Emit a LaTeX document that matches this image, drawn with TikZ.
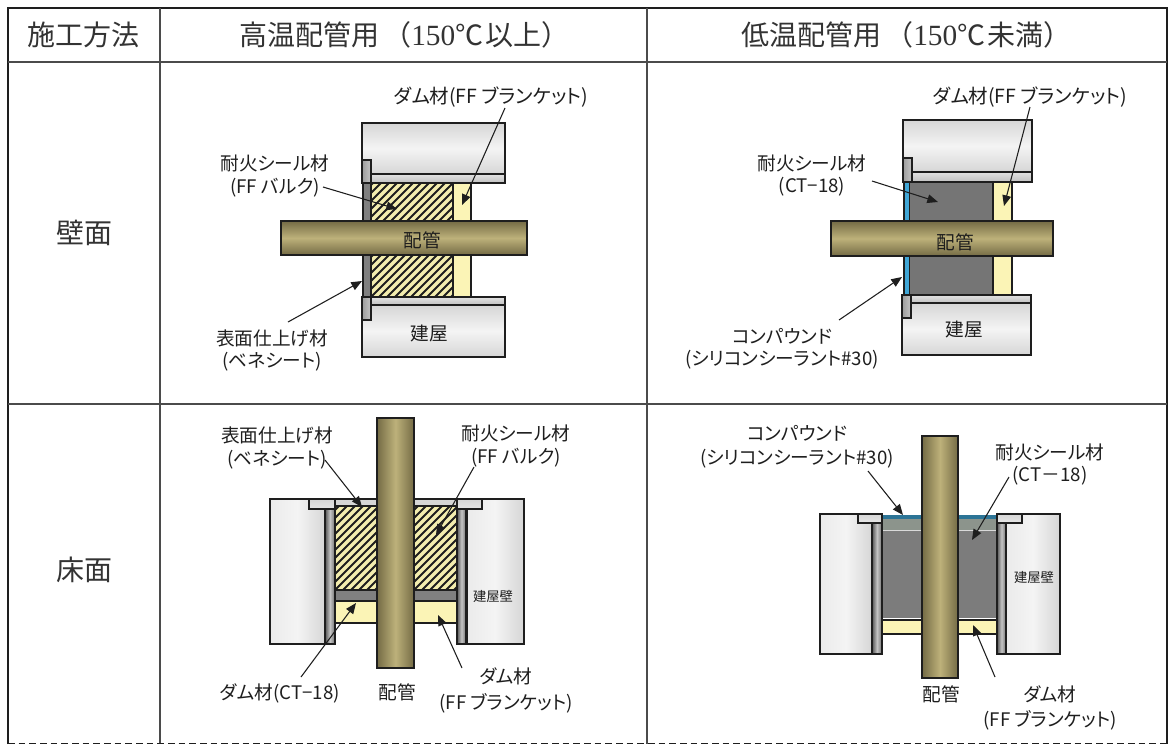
\documentclass[tikz,border=0pt]{standalone}
\usepackage{fontspec}
\usetikzlibrary{arrows.meta}
\setmainfont{Liberation Serif}
\newfontfamily\jpp[RawFeature={+palt}]{Noto Sans CJK JP}
\newfontfamily\jpf{Noto Sans CJK JP}
\newfontfamily\sernum{Liberation Serif}
\definecolor{ink}{HTML}{1E1E1E}
\definecolor{headink}{HTML}{333333}
\definecolor{yel}{HTML}{FBF4B6}
\definecolor{hatchy}{HTML}{F3EDAE}
\definecolor{seal}{HTML}{757575}
\definecolor{band}{HTML}{8C948C}
\definecolor{wallA}{HTML}{F4F4F4}
\definecolor{wallB}{HTML}{D6D6D6}
\definecolor{pipeA}{HTML}{746B45}
\definecolor{pipeB}{HTML}{BDB17A}
\definecolor{blueA}{HTML}{3FA6D6}
\definecolor{panelA}{HTML}{555555}
\definecolor{panelB}{HTML}{C4C4C4}
\definecolor{panelC}{HTML}{707070}
\tikzset{
  px/.style={x=0.75pt,y=-0.75pt},
  edge/.style={draw=ink,line width=1.4pt},
  wallh/.style={edge,top color=wallB,bottom color=wallB,middle color=wallA},
  wallv/.style={edge,left color=wallB!50!white,right color=wallB,middle color=wallA},
  strip/.style={edge,top color=wallB!70!white,bottom color=wallB!90!black},
  flange/.style={edge,left color=panelB!80!black,right color=panelB},
  panelv/.style={edge,left color=panelA,right color=panelC,middle color=panelB},
  pipeh/.style={edge,top color=pipeA,bottom color=pipeA,middle color=pipeB},
  pipev/.style={edge,left color=pipeA,right color=pipeA,middle color=pipeB},
  lab/.style={font=\jpp\fontsize{14}{16}\selectfont,inner sep=0pt,text=ink},
  widelab/.style={font=\jpp\fontsize{14.6}{16}\selectfont,inner sep=0pt,text=ink},
  smalllab/.style={font=\jpf\fontsize{10}{12}\selectfont,inner sep=0pt,text=ink},
  head/.style={font=\jpf\fontsize{21}{24}\selectfont,inner sep=0pt,text=headink},
  arr/.style={draw=ink,line width=0.8pt,-{Triangle[length=8pt,width=6.5pt]}},
  tline/.style={draw=ink!80,line width=0.8pt},
  touter/.style={draw=ink,line width=1.7pt},
}
\newcommand{\hatchbox}[4]{%
  \begin{scope}
    \clip (#1,#2) rectangle (#3,#4);
    \fill[hatchy] (#1,#2) rectangle (#3,#4);
    \foreach \k in {-304,-296,...,304}
      \draw[ink,line width=1.4pt] ({#1+\k},#4) -- ({#1+\k+#4-#2},#2);
  \end{scope}
  \draw[edge] (#1,#2) rectangle (#3,#4);}
\newcommand{\numtxt}{{\sernum\fontsize{22}{24}\selectfont 150}}
\begin{document}
\begin{tikzpicture}[px]
\useasboundingbox (0,0) rectangle (1168,744);
\fill[white] (0,0) rectangle (1168,744);
% table
\draw[touter] (8,744) -- (8,8) -- (1167,8) -- (1167,744);
\draw[tline] (8,62) -- (1167,62);
\draw[tline] (8,404) -- (1167,404);
\draw[tline] (160,8) -- (160,744);
\draw[tline] (647,8) -- (647,744);
\draw[draw=ink,line width=1.2pt,dash pattern=on 5pt off 3pt] (8,743.5) -- (1167,743.5);
\node[head] (h1) at (83,35) {施工方法};
\node[head,anchor=west] (h2) at (239,35) {高温配管用\kern 3pt（\numtxt ℃\kern 2pt 以上）};
\node[head,anchor=west] (h3) at (741,35) {低温配管用\kern 3pt（\numtxt ℃\kern 2pt 未満）};
\node[head] (r1) at (84,233) {壁面};
\node[head] (r2) at (84,570) {床面};

% ---------- Q1 wall, high temperature
\shade[wallh] (362,123) rectangle (505,174);
\shade[strip] (362,174) rectangle (505,183);
\shade[strip] (362,297) rectangle (505,305);
\shade[wallh] (362,305) rectangle (505,357);
\hatchbox{371}{183}{453}{297}
\fill[yel] (453,183) rectangle (471,297);
\draw[edge] (453,183) rectangle (471,297);
\fill[gray] (363,183) rectangle (371,297);
\draw[edge] (363,183) rectangle (371,297);
\shade[flange] (362,160) rectangle (371,183);
\shade[flange] (362,297) rectangle (371,320);
\shade[pipeh] (281,221) rectangle (527,255);
\node[lab] (a1) at (422,240) {配管};
\node[lab] (a2) at (429,333) {建屋};
\node[lab] (a3) at (275,163) {耐火シール材};
\node[lab] (a4) at (275,188) {(FF バルク)};
\node[lab] (a5) at (272,338) {表面仕上げ材};
\node[lab] (a6) at (272,362) {(ベネシート)};
\node[widelab] (a7) at (491,97) {ダム材(FF ブランケット)};
\coordinate (a4s) at (323,187); \coordinate (a4e) at (397,209);
\coordinate (a7s) at (505,108); \coordinate (a7e) at (462,205);
\coordinate (a5s) at (288,322); \coordinate (a5e) at (362,281);
\draw[arr] (a4s) -- (a4e);
\draw[arr] (a7s) -- (a7e);
\draw[arr] (a5s) -- (a5e);

% ---------- Q2 wall, low temperature
\shade[wallh] (903,120) rectangle (1032,172);
\shade[strip] (903,172) rectangle (1032,182);
\shade[strip] (902,295) rectangle (1031,303);
\shade[wallh] (902,303) rectangle (1031,355);
\fill[seal] (909,182) rectangle (993,295);
\draw[edge] (909,182) rectangle (993,295);
\fill[yel] (993,182) rectangle (1012,295);
\draw[edge] (993,182) rectangle (1012,295);
\fill[blueA] (905,182) rectangle (909,295);
\draw[ink,line width=0.8pt] (904,182) -- (904,295);
\shade[flange] (903,158) rectangle (912,182);
\shade[flange] (902,295) rectangle (911,318);
\shade[pipeh] (831,221) rectangle (1053,256);
\node[lab] (b1) at (955,242) {配管};
\node[lab] (b2) at (964,329) {建屋};
\node[lab] (b3) at (812,163) {耐火シール材};
\node[lab] (b4) at (812,187) {(CT−18)};
\node[lab] (b5) at (782,336) {コンパウンド};
\node[lab] (b6) at (782,360) {(シリコンシーラント\#30)};
\node[widelab] (b7) at (1030,97) {ダム材(FF ブランケット)};
\coordinate (b4s) at (872,181); \coordinate (b4e) at (938,202);
\coordinate (b7s) at (1030,107); \coordinate (b7e) at (1004,206);
\coordinate (b6s) at (839,320); \coordinate (b6e) at (902,277);
\draw[arr] (b4s) -- (b4e);
\draw[arr] (b7s) -- (b7e);
\draw[arr] (b6s) -- (b6e);

% ---------- Q3 floor, high temperature
\shade[wallv] (270,499) -| (309,509) -| (325,644) -| cycle;
\shade[wallv] (466,509) -| (482,499) -| (524,644) -| cycle;
\draw[edge,fill=wallB] (335,499) rectangle (377,506);
\draw[edge,fill=wallB] (414,499) rectangle (457,506);
\hatchbox{335}{506}{377}{590}
\hatchbox{414}{506}{457}{590}
\draw[edge,fill=gray] (335,590) rectangle (377,601);
\draw[edge,fill=gray] (414,590) rectangle (457,601);
\draw[edge,fill=yel] (335,601) rectangle (377,623);
\draw[edge,fill=yel] (414,601) rectangle (457,623);
\shade[panelv] (325,509) rectangle (335,644);
\shade[panelv] (457,509) rectangle (466,644);
\draw[ink,line width=1.8pt] (467,509) -- (467,644);
\shade[edge,top color=wallB,bottom color=wallB!60!white] (309,499) rectangle (335,509);
\shade[edge,top color=wallB,bottom color=wallB!60!white] (457,499) rectangle (482,509);
\shade[pipev] (377,418) rectangle (414,668);
\node[lab] (c1) at (277,435) {表面仕上げ材};
\node[lab] (c2) at (277,460) {(ベネシート)};
\node[lab] (c3) at (516,433) {耐火シール材};
\node[lab] (c4) at (516,458) {(FF バルク)};
\node[smalllab] (c5) at (493,596) {建屋壁};
\node[lab] (c6) at (280,693) {ダム材(CT−18)};
\node[lab] (c7) at (397,692) {配管};
\node[lab] (c8) at (506,676) {ダム材};
\node[lab] (c9) at (506,703) {(FF ブランケット)};
\coordinate (c2s) at (325,460); \coordinate (c2e) at (362,507);
\coordinate (c4s) at (474,467); \coordinate (c4e) at (436,535);
\coordinate (c6s) at (301,677); \coordinate (c6e) at (356,603);
\coordinate (c8s) at (462,668); \coordinate (c8e) at (438,615);
\draw[arr] (c2s) -- (c2e);
\draw[arr] (c4s) -- (c4e);
\draw[arr] (c6s) -- (c6e);
\draw[arr] (c8s) -- (c8e);

% ---------- Q4 floor, low temperature
\shade[wallv] (820,514) -| (858,523) -| (872,654) -| cycle;
\shade[wallv] (1006,523) -| (1022,514) -| (1060,654) -| cycle;
\fill[band] (882,516) rectangle (922,530);
\fill[band] (958,516) rectangle (997,530);
\fill[seal!95!white] (882,530) rectangle (922,618);
\fill[seal!95!white] (958,530) rectangle (997,618);
\draw[white!70!gray,line width=0.6pt] (882,530) -- (922,530);
\draw[white!70!gray,line width=0.6pt] (958,530) -- (997,530);
\draw[edge] (882,518) rectangle (922,620);
\draw[edge] (958,518) rectangle (997,620);
\draw[edge,fill=yel] (882,620) rectangle (922,634);
\draw[edge,fill=yel] (958,620) rectangle (997,634);
\fill[blueA!70!black] (882,515) rectangle (922,519);
\fill[blueA!70!black] (958,515) rectangle (997,519);
\shade[panelv] (872,523) rectangle (882,654);
\shade[panelv] (997,523) rectangle (1006,654);
\shade[edge,top color=wallB,bottom color=wallB!60!white] (858,514) rectangle (882,523);
\shade[edge,top color=wallB,bottom color=wallB!60!white] (997,514) rectangle (1022,523);
\shade[pipev] (922,436) rectangle (958,678);
\node[lab] (d1) at (797,433) {コンパウンド};
\node[lab] (d2) at (797,459) {(シリコンシーラント\#30)};
\node[lab] (d3) at (1050,452) {耐火シール材};
\node[lab] (d4) at (1050,476) {(CT－18)};
\node[smalllab] (d5) at (1034,577) {建屋壁};
\node[lab] (d6) at (941,694) {配管};
\node[lab] (d7) at (1050,694) {ダム材};
\node[lab] (d8) at (1050,720) {(FF ブランケット)};
\coordinate (d2s) at (868,471); \coordinate (d2e) at (903,515);
\coordinate (d4s) at (1009,477); \coordinate (d4e) at (972,540);
\coordinate (d7s) at (995,677); \coordinate (d7e) at (973,625);
\draw[arr] (d2s) -- (d2e);
\draw[arr] (d4s) -- (d4e);
\draw[arr] (d7s) -- (d7e);
\end{tikzpicture}
\end{document}
